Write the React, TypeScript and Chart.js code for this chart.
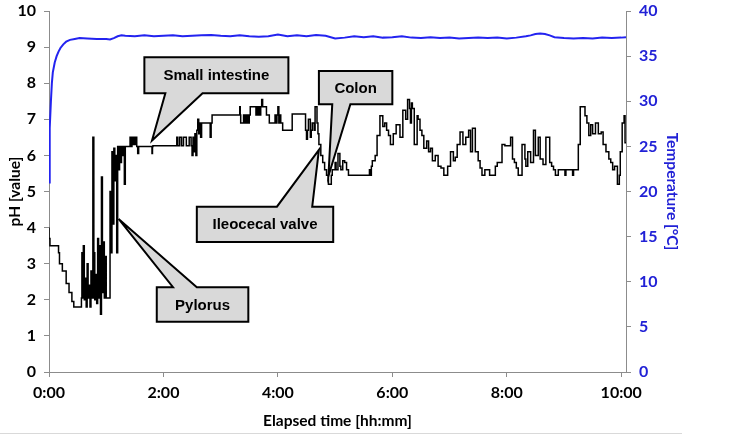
import React, { useEffect, useRef } from 'react';
import { Chart, registerables } from 'chart.js';

Chart.register(...registerables);

// pH readings: [elapsed minutes, pH]
const phReadings: [number, number][] = [
  [0, 4.0], [1, 3.7], [4, 3.5], [10, 3.5], [11, 3.3], [14, 3.0], [18, 2.8], [21, 2.45], [24, 2.2], [26, 1.95], [28, 1.8], [34, 1.8],
  [34.5, 2.05], [35, 3.3], [36, 2.05], [37, 3.5], [38, 2.0], [39, 2.6], [40, 1.8], [41, 3.0], [42, 2.05], [43, 2.4], [44, 1.8], [45, 2.8], [46, 2.05], [47, 6.5], [47.5, 2.05], [48, 3.3], [49, 2.0], [50, 2.7], [51, 1.9], [52, 3.7], [53, 2.05], [54, 3.5], [55, 1.6], [56, 5.4], [57, 2.2], [58, 3.6], [59, 2.05], [60, 3.2], [61, 2.05], [64, 2.05],
  [65, 5.0], [66, 3.3], [67, 6.1], [68, 4.1], [69, 6.2], [70, 5.3], [71, 6.0], [72, 3.3], [73, 6.25], [74, 5.6], [75, 6.25], [76, 5.8], [77, 6.25], [78, 6.0], [79, 6.25], [80, 5.2], [81, 6.25],
  [85, 6.25], [86, 6.5], [87, 6.25], [88, 6.5], [89, 6.3], [90, 6.5], [91, 6.3], [92, 6.5], [93, 6.25], [94, 6.05], [94.5, 6.25], [108, 6.25], [108.5, 6.05], [109, 6.25],
  [134, 6.27], [135, 6.5], [137, 6.27], [139, 6.5], [141, 6.27], [144, 6.5], [147, 6.27], [149, 6.5], [150, 6.27],
  [151, 6.0], [152, 6.5], [153, 6.1], [154, 6.6], [155, 6.0], [156, 6.7], [157, 7.0], [158, 6.6], [159, 6.9], [160, 6.5], [161, 6.9], [169, 6.9], [170, 6.5], [171, 6.9], [173, 7.12],
  [200, 7.12], [200.5, 7.35], [201, 7.12], [204, 6.9], [205, 7.12], [206, 6.9], [207, 7.12], [208, 6.9], [209, 7.12], [210, 6.9], [211, 7.12],
  [217, 7.35], [218, 7.12], [219, 7.35], [220, 7.12], [221, 7.35], [222, 7.12], [223, 7.35], [224, 7.55], [228, 7.35], [231, 7.12],
  [237, 6.9], [238, 7.12], [239, 6.9], [240, 7.12], [241, 7.35], [242, 6.9], [243, 7.12], [245, 6.9], [255, 6.7],
  [269, 7.15], [270, 6.7], [271, 6.45], [272, 6.7], [274, 7.0], [275, 6.5], [276, 6.7], [278, 6.9], [279, 6.7], [281, 7.35], [282, 6.9],
  [283, 6.6], [285, 6.3], [287, 6.0], [289, 5.8], [291, 5.6], [293, 5.45], [296, 5.2], [297, 5.45], [300, 5.6], [301, 5.8], [303, 5.6], [305, 6.05], [306, 5.7], [308, 5.6], [310, 5.85], [312, 5.8], [314, 5.6], [317, 5.45], [336, 5.45], [337, 5.6], [338, 5.45],
  [339, 5.7], [342, 5.85], [344, 6.0], [347, 6.55], [350, 7.1], [352, 6.8], [354, 6.9], [356, 6.7], [358, 6.55], [361, 6.3], [364, 6.6], [368, 6.85], [371, 6.5], [374, 7.25], [376, 7.0], [378, 7.55], [379, 7.3], [380, 6.9], [381, 7.45], [383, 7.3], [386, 6.3], [387, 7.1], [389, 7.0], [391, 6.7], [393, 6.55], [396, 6.2], [398, 6.4], [400, 6.1], [402, 6.2], [405, 5.85], [408, 6.0], [411, 5.7], [414, 5.65], [418, 5.45], [421, 5.7], [424, 6.1], [426, 5.85], [428, 5.95], [431, 6.3], [434, 6.65], [437, 6.3], [440, 6.5], [442, 6.7], [444, 6.1], [447, 6.75], [450, 6.1], [452, 5.85], [454, 5.65], [457, 5.45], [462, 5.6], [463, 5.45], [468, 5.45],
  [470, 5.7], [475, 5.8], [478, 6.3], [484, 6.27], [486, 6.5], [488, 5.9], [490, 5.8], [492, 5.65], [496, 5.45], [499, 6.3], [500, 5.9], [502, 5.7], [505, 6.1], [508, 5.8], [510, 6.7], [513, 6.0], [515, 6.5], [518, 5.9], [521, 5.75], [525, 6.5], [527, 5.8], [529, 5.7], [531, 5.6], [534, 5.45], [541, 5.6], [542, 5.45], [549, 5.6], [550, 5.45], [555, 5.6],
  [557, 6.3], [559, 7.35], [562, 7.35], [564, 7.1], [566, 6.9], [568, 6.55], [570, 6.85], [573, 6.6], [576, 6.9], [579, 6.6], [581, 6.65], [584, 6.3], [587, 6.1], [589, 5.9], [591, 5.8], [593, 5.6], [596, 5.7], [598, 5.2], [599, 5.45], [601, 6.1], [603, 6.9], [604, 7.1], [605, 6.35],
];

// temperature readings: [elapsed minutes, °C]
const tempReadings: [number, number][] = [
  [0, 21.0], [0.5, 24.5], [1, 27.0], [2, 30.0], [3, 32.0], [4, 33.2], [6, 34.3], [8, 35.0], [10, 35.5], [12, 35.9], [15, 36.3], [18, 36.6], [22, 36.8], [27, 36.9],
  [32, 37.0], [40, 36.95], [50, 36.9], [60, 36.9], [64, 36.85], [68, 37.0], [72, 37.2], [76, 37.3], [80, 37.25], [90, 37.2], [100, 37.3], [110, 37.2], [120, 37.25],
  [130, 37.3], [140, 37.2], [150, 37.25], [160, 37.3], [170, 37.35], [180, 37.25], [190, 37.2], [200, 37.3], [210, 37.2], [220, 37.15], [230, 37.2], [240, 37.4],
  [250, 37.2], [260, 37.3], [270, 37.2], [280, 37.35], [290, 37.25], [300, 36.95], [310, 37.05], [320, 37.2], [330, 37.1], [340, 37.2], [350, 37.05], [360, 37.1],
  [370, 37.2], [380, 37.05], [390, 37.0], [400, 37.1], [410, 37.0], [420, 37.05], [430, 36.95], [440, 37.0], [450, 37.05], [460, 37.0], [470, 37.05], [480, 36.95],
  [490, 37.05], [500, 37.2], [505, 37.3], [510, 37.45], [515, 37.5], [520, 37.45], [525, 37.3], [530, 37.1], [540, 37.0], [550, 36.95], [560, 37.0], [570, 36.95],
  [580, 37.05], [590, 37.0], [600, 37.05], [605, 37.1],
];

const xTickMinutes = [0, 120, 240, 360, 480, 600];
const xMaxMinutes = 605;

// Callouts (in data units): label, box [tLeft, tRight, phTop, phBottom], wedge base [t1, t2], tip [t, pH], side of box the wedge leaves from
const calloutLabels = ['Small intestine', 'Colon', 'Ileocecal valve', 'Pylorus'];
const calloutBoxes: number[][] = [[100, 251, 8.72, 7.72], [283, 360, 8.34, 7.42], [155, 298, 4.58, 3.6], [113, 209, 2.35, 1.39]];
const calloutBases: number[][] = [[122, 161], [297, 316], [239, 276], [130, 155]];
const calloutTips: number[][] = [[108, 6.41], [293, 5.43], [283, 6.15], [73, 4.24]];
const calloutSides = ['bottom', 'bottom', 'top', 'top'];

const BLUE_TEXT = '#2121d6';
const BLUE_LINE = '#2323f0';
const AXIS_GRAY = '#8c8c8c';
const FONT_FAMILY = 'Lato, "Liberation Sans", sans-serif';
const TICK_FONT = { family: FONT_FAMILY, weight: 'bold' as const, size: 16 };
const TITLE_FONT = { family: FONT_FAMILY, weight: 'bold' as const, size: 15.5 };

function fmtTime(v: number) {
  const h = Math.floor(v / 60);
  const m = Math.round(v % 60);
  return `${h}:${m < 10 ? '0' : ''}${m}`;
}

const calloutPlugin = {
  id: 'callouts',
  afterDatasetsDraw(chart: any) {
    const { ctx } = chart;
    const xs = chart.scales.x;
    const ys = chart.scales.y;
    ctx.save();
    calloutLabels.forEach((label, i) => {
      const [t0, t1, p0, p1] = calloutBoxes[i];
      const L = xs.getPixelForValue(t0);
      const R = xs.getPixelForValue(t1);
      const T = ys.getPixelForValue(p0);
      const B = ys.getPixelForValue(p1);
      const b1 = xs.getPixelForValue(calloutBases[i][0]);
      const b2 = xs.getPixelForValue(calloutBases[i][1]);
      const tx = xs.getPixelForValue(calloutTips[i][0]);
      const ty = ys.getPixelForValue(calloutTips[i][1]);
      ctx.beginPath();
      if (calloutSides[i] === 'bottom') {
        ctx.moveTo(L, T);
        ctx.lineTo(R, T);
        ctx.lineTo(R, B);
        ctx.lineTo(b2, B);
        ctx.lineTo(tx, ty);
        ctx.lineTo(b1, B);
        ctx.lineTo(L, B);
      } else {
        ctx.moveTo(L, T);
        ctx.lineTo(b1, T);
        ctx.lineTo(tx, ty);
        ctx.lineTo(b2, T);
        ctx.lineTo(R, T);
        ctx.lineTo(R, B);
        ctx.lineTo(L, B);
      }
      ctx.closePath();
      ctx.fillStyle = '#d9d9d9';
      ctx.fill();
      ctx.lineWidth = 2;
      ctx.lineJoin = 'miter';
      ctx.strokeStyle = '#000000';
      ctx.stroke();
      ctx.fillStyle = '#000000';
      ctx.font = 'bold 15px "Liberation Sans", Arial, sans-serif';
      ctx.textAlign = 'center';
      ctx.textBaseline = 'middle';
      ctx.fillText(label, (L + R) / 2, (T + B) / 2 + 1);
    });
    ctx.restore();
  },
  afterDraw(chart: any) {
    const { ctx } = chart;
    ctx.save();
    ctx.strokeStyle = '#d9d9d9';
    ctx.lineWidth = 1;
    ctx.beginPath();
    ctx.moveTo(0, 433.5);
    ctx.lineTo(682, 433.5);
    ctx.stroke();
    ctx.restore();
  },
};

export default function App() {
  const canvasRef = useRef<HTMLCanvasElement | null>(null);

  useEffect(() => {
    if (!canvasRef.current) return;
    const chart = new Chart(canvasRef.current, {
      type: 'line',
      data: {
        datasets: [
          {
            label: 'Temperature',
            data: tempReadings.map(([x, y]) => ({ x, y })),
            yAxisID: 'y2',
            borderColor: BLUE_LINE,
            borderWidth: 2,
            pointRadius: 0,
            tension: 0,
          },
          {
            label: 'pH',
            data: phReadings.map(([x, y]) => ({ x, y })),
            yAxisID: 'y',
            borderColor: '#000000',
            borderWidth: 1.5,
            pointRadius: 0,
            stepped: 'after',
          },
        ],
      },
      options: {
        responsive: false,
        animation: false,
        events: [],
        layout: { padding: { top: 11, left: 0, right: 0, bottom: 0 } },
        plugins: { legend: { display: false }, tooltip: { enabled: false } },
        scales: {
          x: {
            type: 'linear',
            min: 0,
            max: xMaxMinutes,
            afterBuildTicks: (s: any) => {
              s.ticks = xTickMinutes.map((v) => ({ value: v }));
            },
            afterFit: (s: any) => {
              s.height = 66;
              s.paddingLeft = 0;
              s.paddingRight = 0;
            },
            ticks: { callback: (v: any) => fmtTime(Number(v)), font: TICK_FONT, color: '#000', padding: 6, maxRotation: 0, autoSkip: false },
            grid: { drawOnChartArea: false, drawTicks: true, tickLength: 5, color: AXIS_GRAY },
            border: { display: true, color: AXIS_GRAY, width: 1 },
            title: {
              display: true,
              text: 'Elapsed time [hh:mm]',
              color: '#000',
              font: TITLE_FONT,
              padding: { top: 0, bottom: 8 },
            },
          },
          y: {
            position: 'left',
            min: 0,
            max: 10,
            afterFit: (s: any) => {
              s.width = 49;
              s.paddingTop = 0;
              s.paddingBottom = 0;
            },
            ticks: { stepSize: 1, font: TICK_FONT, color: '#000', padding: 8 },
            grid: { drawOnChartArea: false, drawTicks: true, tickLength: 5, color: AXIS_GRAY },
            border: { display: true, color: AXIS_GRAY, width: 1 },
            title: {
              display: true,
              text: 'pH [value]',
              color: '#000',
              font: TITLE_FONT,
              padding: { top: 6, bottom: 0 },
            },
          },
          y2: {
            position: 'right',
            min: 0,
            max: 40,
            afterFit: (s: any) => {
              s.width = 123;
              s.paddingTop = 0;
              s.paddingBottom = 0;
            },
            ticks: { stepSize: 5, font: TICK_FONT, color: BLUE_TEXT, padding: 8 },
            grid: { drawOnChartArea: false, drawTicks: true, tickLength: 5, color: AXIS_GRAY },
            border: { display: true, color: AXIS_GRAY, width: 1 },
            title: {
              display: true,
              text: 'Temperature [°C]',
              color: BLUE_TEXT,
              font: TITLE_FONT,
              padding: { top: 68, bottom: 0 },
            },
          },
        },
      },
      plugins: [calloutPlugin],
    });
    return () => chart.destroy();
  }, []);

  return (
    <div style={{ position: 'fixed', left: 0, top: 0, width: 749, height: 438, background: '#fff' }}>
      <canvas ref={canvasRef} width={749} height={438} style={{ width: 749, height: 438, display: 'block' }} />
    </div>
  );
}
